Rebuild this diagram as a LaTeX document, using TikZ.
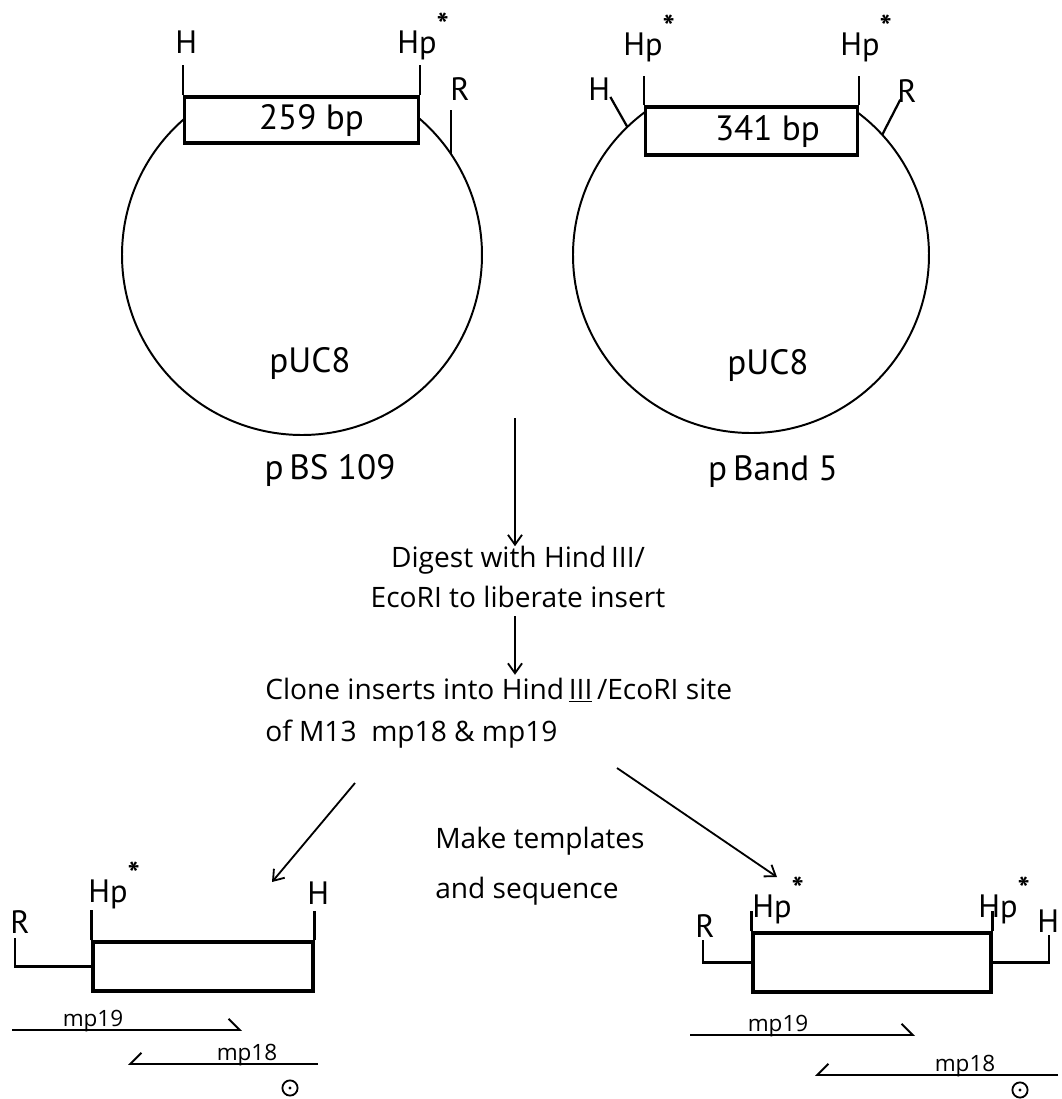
\documentclass[tikz,border=0pt]{standalone}
\usepackage{fontspec}
\usetikzlibrary{arrows.meta}
\newfontfamily\stencilfont{PT Sans}
\newfontfamily\handfont{Open Sans}
\newcommand{\hpstar}{Hp\raisebox{1.05ex}{\bfseries *}}

\begin{document}
\begin{tikzpicture}[x=0.025cm,y=-0.025cm,
  site/.style={font=\stencilfont\fontsize{23}{27}\selectfont,inner sep=0pt,anchor=base west},
  plasname/.style={font=\stencilfont\fontsize{25}{29}\selectfont,inner sep=0pt},
  hand/.style={font=\handfont\fontsize{20}{24}\selectfont,inner sep=0pt},
  primername/.style={font=\handfont\fontsize{16}{19}\selectfont,inner sep=0pt,anchor=base},
  ring/.style={line width=1.4pt},
  sitetick/.style={line width=1.6pt},
  insbox/.style={draw,line width=2.2pt,fill=white,inner sep=0pt,font=\stencilfont\fontsize{25}{29}\selectfont},
  flow/.style={line width=1.3pt,-{Straight Barb[length=7pt,width=10pt]}},
  primer/.style={line width=1.3pt,-{Straight Barb[harpoon,length=8pt,width=16pt]}},
  primer back/.style={line width=1.3pt,-{Straight Barb[harpoon,swap,length=8pt,width=16pt]}},
  odot/.style={circle,draw,line width=1.3pt,minimum size=0.38cm,inner sep=0pt}]
\useasboundingbox (0,0) rectangle (1062,1099);

% the two plasmids
\coordinate (cL) at (302,255);
\coordinate (cR) at (751,255);
\draw[ring] (cL) ++(229.5:180) arc[start angle=229.5,end angle=-49.5,radius=180];
\draw[ring] (cR) ++(233.6:178) arc[start angle=233.6,end angle=-53.6,radius=178];

\node[insbox,minimum width=5.83cm,minimum height=1.15cm] (box1) at (301.5,120) {\hspace*{0.5cm}259 bp};
\node[insbox,minimum width=5.28cm,minimum height=1.2cm] (box2) at (751.5,131) {\hspace*{0.8cm}341 bp};

\node[site] (hA) at (175,53) {H};
\node[site] (hpA) at (397,53) {\hpstar};
\node[site] (rA) at (450,100) {R};
\draw[sitetick] (box1.north west) -- ++(0,-30);
\draw[sitetick] (box1.north east) -- ++(0,-30);
\draw[sitetick] (cL) ++(-34:180) -- ++(0,-44);

\node[site] (hpB) at (623,55) {\hpstar};
\node[site] (hpC) at (840,55) {\hpstar};
\node[site] (hB) at (588,100) {H};
\node[site] (rB) at (897,102) {R};
\draw[sitetick] (box2.north west) -- ++(0,-29);
\draw[sitetick] (box2.north east) -- ++(0,-29);
\draw[sitetick] (cR) ++(-134:178) -- ++(-17,-30);
\draw[sitetick] (cR) ++(-42.5:178) -- ++(18,-35);

\node[plasname] (pucA) at (310,363) {pUC8};
\node[plasname] (pucB) at (768,365) {pUC8};
\node[plasname] (pbs) at (330,470) {p\,BS 109};
\node[plasname] (pband) at (773,472) {p\,Band 5};

% steps
\node[hand,align=center] (dig) at (518,577) {Digest with Hind\,III/\\[4pt]EcoRI to liberate insert};
\node[hand,align=left,anchor=west] (clone) at (265,713) {Clone inserts into Hind\,\underline{III}\,/EcoRI site\\[6pt]of M13 \ mp18 \& mp19};
\node[hand,align=left,anchor=west] (make) at (435,866) {Make templates\\[12pt]and sequence};

\coordinate (down) at (515,418);
\draw[flow] (down) -- (down |- dig.north);
\draw[flow] ([yshift=-6pt]down |- dig.south) -- ([yshift=2pt]down |- clone.north);
\coordinate (toL) at (355,783);
\coordinate (atL) at (272,882);
\coordinate (toR) at (617,768);
\coordinate (atR) at (777,877);
\draw[flow] (toL) -- (atL);
\draw[flow] (toR) -- (atR);

% M13 clones
\node[insbox,minimum width=5.5cm,minimum height=1.225cm] (box3) at (203,966.5) {};
\node[insbox,minimum width=5.95cm,minimum height=1.475cm] (box4) at (872,962.5) {};

\node[site] (rC) at (10,933) {R};
\node[site] (hpD) at (88,902) {\hpstar};
\node[site] (hC) at (307,904) {H};
\draw[sitetick] (rC.base west) ++(5,5) |- (box3.west);
\draw[sitetick] (box3.north west) -- ++(0,-30);
\draw[sitetick] (box3.north east) -- ++(0,-29);

\node[site] (rD) at (695,937) {R};
\node[site] (hpE) at (752,917) {\hpstar};
\node[site] (hpF) at (978,917) {\hpstar};
\node[site] (hD) at (1037,932) {H};
\draw[sitetick] (rD.base west) ++(8,3) |- (box4.west);
\draw[sitetick] (hD.base west) ++(12,3) |- (box4.east);
\draw[sitetick] (box4.north west) -- ++(0,-20);
\draw[sitetick] (box4.north east) -- ++(0,-20);

% sequencing directions
\coordinate (a19L) at (12,1030);
\coordinate (b19L) at (242,1030);
\coordinate (a18L) at (318,1064);
\coordinate (b18L) at (128,1064);
\draw[primer] (a19L) -- (b19L);
\draw[primer back] (a18L) -- (b18L);
\node[primername] (m19L) at (93,1026) {mp19};
\node[primername] (m18L) at (247,1060) {mp18};
\node[odot] (oL) at (290,1088) {};
\fill (oL.center) circle (1.2pt);

\coordinate (a19R) at (690,1035);
\coordinate (b19R) at (915,1035);
\coordinate (a18R) at (1058,1075);
\coordinate (b18R) at (815,1075);
\draw[primer] (a19R) -- (b19R);
\draw[primer back] (a18R) -- (b18R);
\node[primername] (m19R) at (778,1031) {mp19};
\node[primername] (m18R) at (965,1071) {mp18};
\node[odot] (oR) at (1020,1090) {};
\fill (oR.center) circle (1.2pt);
\end{tikzpicture}
\end{document}
